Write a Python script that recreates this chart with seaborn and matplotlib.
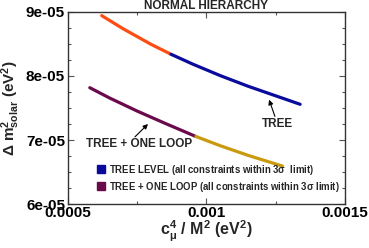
import matplotlib
matplotlib.use("Agg")
import matplotlib.pyplot as plt
import seaborn as sns
import pandas as pd
from matplotlib.lines import Line2D
from matplotlib.ticker import MultipleLocator, FuncFormatter

# tree level curve (x in eV^2, y in 1e-5 eV^2)
tree_orange_x = [0.000622, 0.00070, 0.00080, 0.000872]
tree_orange_y = [8.942, 8.735, 8.494, 8.339]
tree_blue_x = [0.000872, 0.00095, 0.00105, 0.00115, 0.00125, 0.001338]
tree_blue_y = [8.339, 8.186, 8.005, 7.840, 7.690, 7.558]

# tree + one loop curve
loop_purple_x = [0.000579, 0.00065, 0.00075, 0.00085, 0.000962]
loop_purple_y = [7.817, 7.657, 7.452, 7.262, 7.055]
loop_gold_x = [0.000962, 0.00105, 0.00115, 0.001274]
loop_gold_y = [7.055, 6.911, 6.761, 6.594]

segments = {
    "tree_orange": (tree_orange_x, tree_orange_y, "#ff4c12"),
    "tree_blue": (tree_blue_x, tree_blue_y, "#0a0a9c"),
    "loop_purple": (loop_purple_x, loop_purple_y, "#6a0a4c"),
    "loop_gold": (loop_gold_x, loop_gold_y, "#c99a0e"),
}

rows = []
for name, (xs, ys, _) in segments.items():
    for x, y in zip(xs, ys):
        rows.append({"seg": name, "x": x, "y": y * 1e-5})
df = pd.DataFrame(rows)
palette = {k: v[2] for k, v in segments.items()}

sns.set_style("ticks")
plt.rcParams["font.family"] = ["Liberation Sans", "DejaVu Sans"]
plt.rcParams["font.weight"] = "bold"
plt.rcParams["mathtext.fontset"] = "custom"
plt.rcParams["mathtext.rm"] = "Liberation Sans:bold"
plt.rcParams["mathtext.it"] = "Liberation Sans:bold"
plt.rcParams["mathtext.bf"] = "Liberation Sans:bold"
plt.rcParams["mathtext.sf"] = "Liberation Sans:bold"

fig = plt.figure(figsize=(3.69, 2.48), dpi=100)
ax = fig.add_axes([0.184, 0.177, 0.751, 0.775])

sns.lineplot(data=df, x="x", y="y", hue="seg", palette=palette, sort=False,
             estimator=None, units="seg", linewidth=2.3, legend=False, ax=ax)

ax.set_xlim(0.0005, 0.0015)
ax.set_ylim(6e-5, 9e-5)
ax.xaxis.set_major_locator(MultipleLocator(0.0005))
ax.xaxis.set_minor_locator(MultipleLocator(0.00025))
ax.yaxis.set_major_locator(MultipleLocator(1e-5))
ax.yaxis.set_minor_locator(MultipleLocator(0.25e-5))
ax.xaxis.set_major_formatter(FuncFormatter(lambda v, p: f"{v:g}"))
ax.yaxis.set_major_formatter(FuncFormatter(lambda v, p: f"{v:.0e}"))
ax.tick_params(which="both", direction="in", top=True, right=True,
               labelsize=11, width=0.8, colors="#555555", labelcolor="black")
ax.tick_params(which="major", length=4)
ax.tick_params(which="minor", length=2.5)
ax.tick_params(axis="x", pad=1.5)
ax.tick_params(axis="y", pad=2)
for sp in ax.spines.values():
    sp.set_linewidth(1.0)
    sp.set_color("#333333")
for lab in ax.get_xticklabels() + ax.get_yticklabels():
    lab.set_fontweight("bold")

ax.set_xlabel(r"$\mathregular{c^4_{\mu}}$ / $\mathregular{M^2}$ (eV$^\mathregular{2}$)",
              fontsize=11.5, fontweight="bold", labelpad=-1)
ax.set_ylabel(r"$\Delta$ $\mathregular{m^2_{solar}}$ (eV$^\mathregular{2}$)",
              fontsize=11, fontweight="bold", labelpad=3)
ax.set_title("NORMAL HIERARCHY", fontsize=8.5, fontweight="bold", pad=2)

arrow = dict(arrowstyle="-|>", color="black", lw=0.8, mutation_scale=7,
             shrinkA=0, shrinkB=0)
ax.text(0.001255, 7.25e-5, "TREE", ha="center", va="center",
        fontsize=8.5, fontweight="bold")
ax.annotate("", xy=(0.001226, 7.63e-5), xytext=(0.001247, 7.37e-5), arrowprops=arrow)
ax.text(0.000756, 6.94e-5, "TREE + ONE LOOP", ha="center", va="center",
        fontsize=8.5, fontweight="bold")
ax.annotate("", xy=(0.000789, 7.25e-5), xytext=(0.000742, 7.05e-5), arrowprops=arrow)

handles = [
    Line2D([], [], marker="s", linestyle="none", color="#0a0a9c", markersize=6),
    Line2D([], [], marker="s", linestyle="none", color="#6a0a4c", markersize=6),
]
labels = [
    r"TREE LEVEL (all constraints within 3$\sigma$  limit)",
    r"TREE + ONE LOOP (all constraints within 3$\sigma$ limit)",
]
ax.legend(handles, labels, loc="lower left", bbox_to_anchor=(0.08, 0.02),
          frameon=False, handlelength=0.8, handletextpad=0.5,
          borderpad=0.2, labelspacing=0.3, prop={"weight": "bold", "size": 6.9})

fig.savefig("out.png", dpi=100)
